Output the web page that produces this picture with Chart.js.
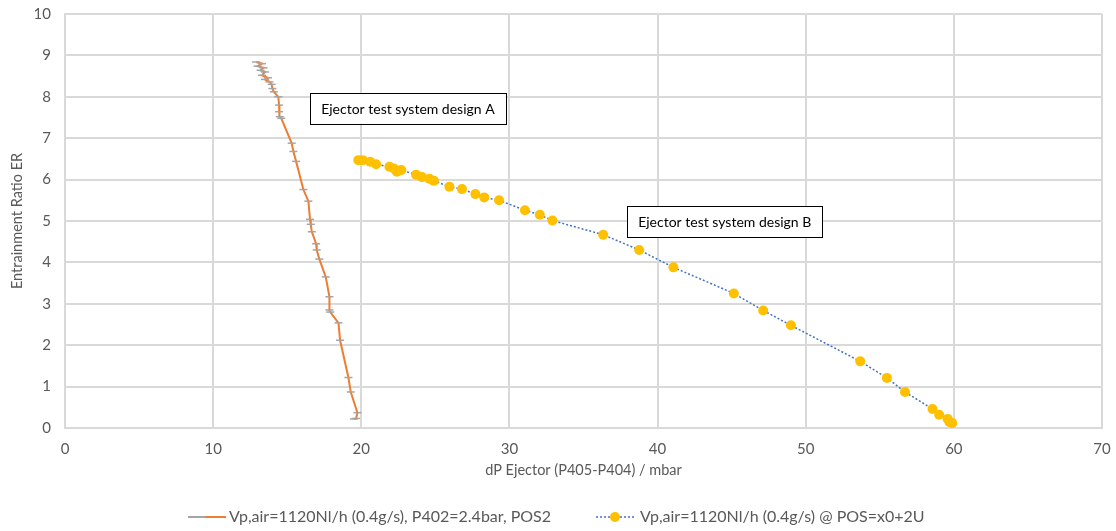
<!DOCTYPE html>
<html>
<head>
<meta charset="utf-8">
<script src="https://cdn.jsdelivr.net/npm/chart.js@4.4.1/dist/chart.umd.min.js"></script>
<style>
  html, body { margin: 0; padding: 0; background: #fff; overflow: hidden; }
  #wrap { width: 1116px; height: 531px; position: relative; overflow: hidden; }
  #c { position: absolute; left: 0; top: -9px; }
</style>
</head>
<body>
<div id="wrap"><canvas id="c" width="1116" height="540"></canvas></div>
<script>
// Design A: pressure drop (mbar) and entrainment ratio
const designA_dP = [12.9, 13.3, 13.0, 13.4, 13.2, 13.5, 13.3, 13.7, 13.5, 13.8, 13.95, 14.0, 14.1, 14.4, 14.45, 14.45, 14.5, 14.6,
  15.3, 15.42, 15.6, 16.09, 16.43, 16.54, 16.59, 16.66, 16.95, 16.99, 17.17, 17.6, 17.85, 17.85, 17.9,
  18.46, 18.57, 19.13, 19.29, 19.74, 19.65, 19.5];
const designA_ER = [8.84, 8.80, 8.74, 8.70, 8.64, 8.60, 8.52, 8.46, 8.42, 8.36, 8.30, 8.20, 8.12, 8.00, 7.80, 7.64, 7.52, 7.48,
  6.88, 6.68, 6.44, 5.76, 5.48, 5.04, 4.92, 4.74, 4.45, 4.30, 4.08, 3.65, 3.17, 2.85, 2.80,
  2.54, 2.12, 1.22, 0.87, 0.37, 0.23, 0.22];

// Design B: pressure drop (mbar) and entrainment ratio
const designB_dP = [19.8, 20.1, 20.6, 21.0, 21.9, 22.2, 22.4, 22.7, 23.7, 24.1, 24.6, 24.9, 25.95, 26.8, 27.7, 28.3, 29.3,
  31.05, 32.05, 32.9, 36.33, 38.76, 41.07, 45.15, 47.13, 49.0, 53.68, 55.48, 56.7, 58.56, 59.01, 59.58, 59.71, 59.89];
const designB_ER = [6.47, 6.47, 6.43, 6.37, 6.31, 6.27, 6.19, 6.23, 6.12, 6.06, 6.02, 5.97, 5.83, 5.77, 5.65, 5.57, 5.50,
  5.26, 5.15, 5.01, 4.67, 4.30, 3.88, 3.25, 2.84, 2.48, 1.61, 1.21, 0.87, 0.46, 0.32, 0.22, 0.14, 0.12];

const seriesNames = [
  'Vp,air=1120Nl/h (0.4g/s), P402=2.4bar, POS2',
  'Vp,air=1120Nl/h (0.4g/s) @ POS=x0+2U'
];

// Callout boxes, anchored at their top-left corner in data units
const calloutText = ['Ejector test system design A', 'Ejector test system design B'];
const calloutX = [16.55, 37.95];
const calloutY = [8.10, 5.36];

const xTicks = { min: 0, max: 70, step: 10 };
const yTicks = { min: 0, max: 10, step: 1 };

const FONT = 'Lato, "Open Sans", sans-serif';
const TEXT = '#595959';
const GRID = '#d9d9d9';

const toPoints = (xs, ys) => xs.map((x, i) => ({ x, y: ys[i] }));

const calloutPlugin = {
  id: 'callouts',
  afterDatasetsDraw(chart) {
    const { ctx, scales } = chart;
    ctx.save();
    ctx.font = '14px ' + FONT;
    calloutText.forEach((t, i) => {
      const x = scales.x.getPixelForValue(calloutX[i]);
      const y = scales.y.getPixelForValue(calloutY[i]);
      const w = ctx.measureText(t).width + 22;
      const h = 31;
      ctx.fillStyle = '#fff';
      ctx.fillRect(x, y, w, h);
      ctx.strokeStyle = '#000';
      ctx.lineWidth = 1;
      ctx.strokeRect(Math.round(x) + 0.5, Math.round(y) + 0.5, Math.round(w), h);
      ctx.fillStyle = '#000';
      ctx.textBaseline = 'middle';
      ctx.fillText(t, x + 11, y + h / 2 + 1);
    });
    ctx.restore();
  }
};

// Legend row under the axis title: two entries, each a line sample plus text
const legendPlugin = {
  id: 'bottomLegend',
  afterDraw(chart) {
    const { ctx } = chart;
    ctx.save();
    ctx.font = '16px ' + FONT;
    ctx.textBaseline = 'middle';
    const y = chart.height - 14;
    const sym = 38;
    // entry A: orange line with grey dash marker
    let x = 188;
    ctx.strokeStyle = '#ED7D31';
    ctx.lineWidth = 2;
    ctx.beginPath(); ctx.moveTo(x, y); ctx.lineTo(x + sym, y); ctx.stroke();
    ctx.strokeStyle = '#A5A5A5';
    ctx.beginPath(); ctx.moveTo(x, y); ctx.lineTo(x + 18, y); ctx.stroke();
    ctx.fillStyle = TEXT;
    ctx.fillText(seriesNames[0], x + sym + 3, y);
    // entry B: dotted blue line with yellow dot
    x = 596;
    ctx.strokeStyle = '#4472C4';
    ctx.lineWidth = 1.5;
    ctx.setLineDash([2, 2]);
    ctx.beginPath(); ctx.moveTo(x, y); ctx.lineTo(x + sym, y); ctx.stroke();
    ctx.setLineDash([]);
    ctx.fillStyle = '#FFC000';
    ctx.beginPath(); ctx.arc(x + sym / 2, y, 5, 0, Math.PI * 2); ctx.fill();
    ctx.fillStyle = TEXT;
    ctx.fillText(seriesNames[1], x + sym + 6, y);
    ctx.restore();
  }
};

new Chart(document.getElementById('c'), {
  type: 'scatter',
  data: {
    datasets: [
      {
        label: seriesNames[0],
        data: toPoints(designA_dP, designA_ER),
        showLine: true,
        borderColor: '#ED7D31',
        borderWidth: 2,
        pointStyle: 'line',
        pointRadius: 4,
        pointBorderColor: '#A5A5A5',
        pointBackgroundColor: '#A5A5A5',
        pointBorderWidth: 1.5,
        tension: 0
      },
      {
        label: seriesNames[1],
        data: toPoints(designB_dP, designB_ER),
        showLine: true,
        borderColor: '#4472C4',
        borderWidth: 1.5,
        borderDash: [2, 2],
        pointStyle: 'circle',
        pointRadius: 5,
        pointBackgroundColor: '#FFC000',
        pointBorderColor: '#FFC000',
        pointBorderWidth: 0,
        tension: 0
      }
    ]
  },
  options: {
    responsive: false,
    animation: false,
    layout: { padding: { top: 3, right: 14, bottom: 48, left: 5 } },
    plugins: {
      legend: { display: false },
      tooltip: { enabled: false }
    },
    scales: {
      x: {
        type: 'linear',
        min: xTicks.min, max: xTicks.max,
        ticks: { stepSize: xTicks.step, color: TEXT, font: { family: FONT, size: 15 }, padding: 12 },
        grid: { color: GRID, lineWidth: 2, drawTicks: false },
        border: { color: GRID, width: 2 },
        title: { display: true, text: 'dP Ejector (P405-P404) / mbar', color: TEXT, font: { family: FONT, size: 14.5 }, padding: { top: 4 } },
        afterFit(scale) {
          scale.height = 55;
          scale.paddingLeft = 0;
          scale.paddingRight = 0;
        }
      },
      y: {
        type: 'linear',
        min: yTicks.min, max: yTicks.max,
        ticks: { stepSize: yTicks.step, color: TEXT, font: { family: FONT, size: 15 }, padding: 14 },
        grid: { color: GRID, lineWidth: 2, drawTicks: false },
        border: { color: GRID, width: 2 },
        title: { display: true, text: 'Entrainment Ratio ER', color: TEXT, font: { family: FONT, size: 14.5 }, padding: { bottom: 4 } },
        afterFit(scale) { scale.width = 60; }
      }
    }
  },
  plugins: [calloutPlugin, legendPlugin]
});
</script>
</body>
</html>
